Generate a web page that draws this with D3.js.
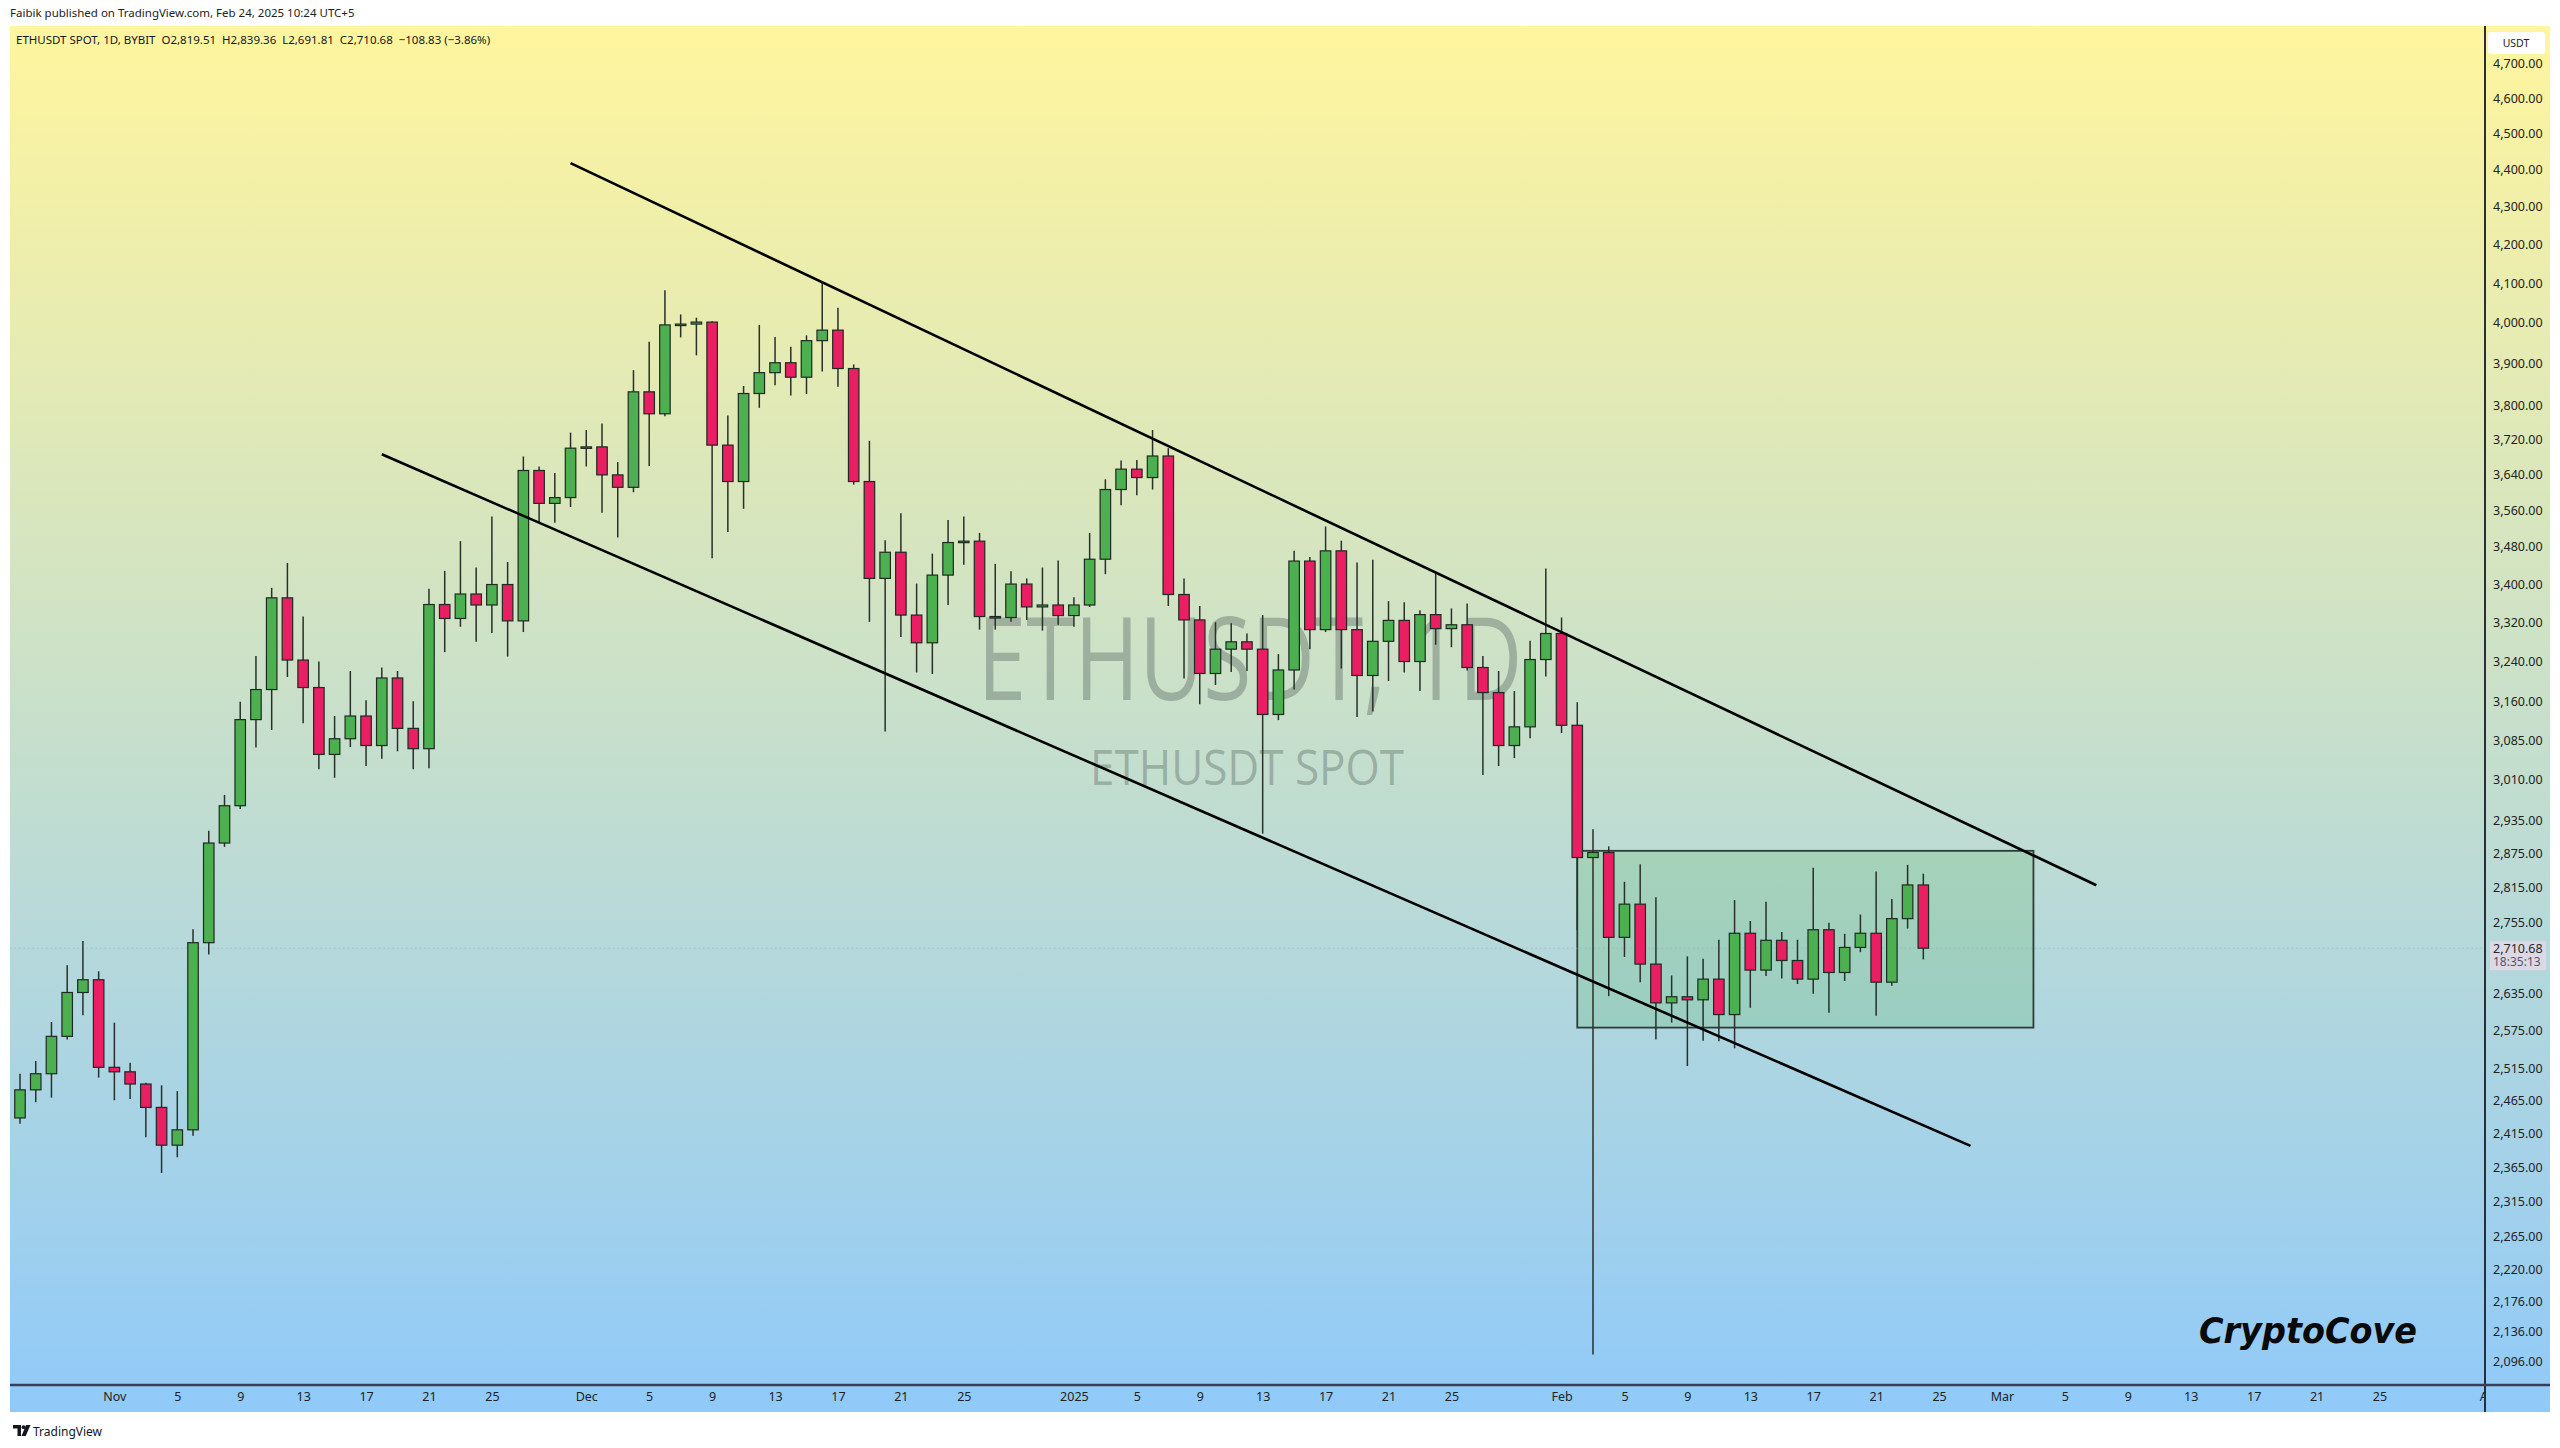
<!DOCTYPE html>
<html>
<head>
<meta charset="utf-8">
<script src="https://cdn.jsdelivr.net/npm/d3@7"></script>
<style>
html,body{margin:0;padding:0;background:#ffffff;}
svg{display:block;}
</style>
</head>
<body>
<div id="chart"></div>
<script>
// ---------------- DATA ----------------
const dates = [
"2024-10-26","2024-10-27","2024-10-28","2024-10-29","2024-10-30","2024-10-31",
"2024-11-01","2024-11-02","2024-11-03","2024-11-04","2024-11-05","2024-11-06","2024-11-07","2024-11-08","2024-11-09","2024-11-10",
"2024-11-11","2024-11-12","2024-11-13","2024-11-14","2024-11-15","2024-11-16","2024-11-17","2024-11-18","2024-11-19","2024-11-20",
"2024-11-21","2024-11-22","2024-11-23","2024-11-24","2024-11-25","2024-11-26","2024-11-27","2024-11-28","2024-11-29","2024-11-30",
"2024-12-01","2024-12-02","2024-12-03","2024-12-04","2024-12-05","2024-12-06","2024-12-07","2024-12-08","2024-12-09","2024-12-10",
"2024-12-11","2024-12-12","2024-12-13","2024-12-14","2024-12-15","2024-12-16","2024-12-17","2024-12-18","2024-12-19","2024-12-20",
"2024-12-21","2024-12-22","2024-12-23","2024-12-24","2024-12-25","2024-12-26","2024-12-27","2024-12-28","2024-12-29","2024-12-30","2024-12-31",
"2025-01-01","2025-01-02","2025-01-03","2025-01-04","2025-01-05","2025-01-06","2025-01-07","2025-01-08","2025-01-09","2025-01-10",
"2025-01-11","2025-01-12","2025-01-13","2025-01-14","2025-01-15","2025-01-16","2025-01-17","2025-01-18","2025-01-19","2025-01-20",
"2025-01-21","2025-01-22","2025-01-23","2025-01-24","2025-01-25","2025-01-26","2025-01-27","2025-01-28","2025-01-29","2025-01-30","2025-01-31",
"2025-02-01","2025-02-02","2025-02-03","2025-02-04","2025-02-05","2025-02-06","2025-02-07","2025-02-08","2025-02-09","2025-02-10",
"2025-02-11","2025-02-12","2025-02-13","2025-02-14","2025-02-15","2025-02-16","2025-02-17","2025-02-18","2025-02-19","2025-02-20",
"2025-02-21","2025-02-22","2025-02-23","2025-02-24"
];
const opens = [
2439,2482,2507,2566,2637,2658,
2517,2510,2491,2455,2398,2421,2720,2894,2962,3125,
3184,3371,3243,3188,3058,3088,3132,3075,3207,3108,
3069,3357,3328,3379,3356,3399,3323,3649,3575,3588,
3700,3703,3639,3611,3832,3780,3995,3997,4002,3707,
3624,3828,3878,3902,3867,3956,3982,3888,3624,3412,
3468,3335,3278,3419,3489,3492,3332,3330,3400,3352,3356,
3334,3356,3453,3606,3652,3633,3682,3378,3325,3216,
3265,3280,3265,3135,3223,3449,3305,3471,3305,3212,
3281,3324,3240,3336,3307,3315,3228,3178,3075,3111,3244,
3297,3114,2868,2877,2729,2786,2684,2620,2630,2625,
2659,2601,2736,2674,2724,2690,2659,2742,2670,2712,
2736,2654,2761,2819.51
];
const highs = [
2507,2527,2589,2682,2723,2672,
2588,2524,2493,2489,2480,2743,2916,2982,3160,3251,
3392,3445,3332,3240,3132,3221,3163,3228,3221,3161,
3390,3428,3492,3435,3546,3447,3681,3658,3643,3736,
3742,3757,3668,3884,3953,4082,4021,4013,4004,3776,
3846,3995,3965,3941,3969,4104,4038,3898,3717,3494,
3553,3401,3465,3538,3546,3510,3443,3427,3412,3435,3450,
3372,3510,3629,3672,3673,3742,3700,3412,3354,3320,
3318,3297,3335,3255,3471,3458,3524,3493,3446,3452,
3364,3362,3345,3423,3349,3359,3251,3221,3181,3282,3433,
3330,3159,2919,2888,2825,2856,2798,2665,2697,2693,
2725,2793,2757,2790,2738,2725,2850,2754,2735,2768,
2843,2795,2855,2839.36
];
const lows = [
2430,2463,2470,2561,2600,2501,
2466,2468,2410,2357,2380,2412,2700,2887,2956,3071,
3105,3209,3118,3030,3014,3072,3036,3050,3064,3030,
3032,3259,3311,3280,3298,3250,3300,3534,3532,3567,
3658,3554,3500,3600,3659,3774,3964,3920,3455,3512,
3563,3794,3848,3823,3827,3881,3844,3617,3321,3102,
3290,3218,3215,3356,3441,3305,3305,3321,3325,3303,3315,
3311,3352,3421,3571,3593,3606,3354,3206,3155,3193,
3219,3221,2911,3124,3184,3265,3300,3226,3130,3141,
3201,3218,3181,3274,3269,3222,3019,3036,3051,3089,3210,
3099,2741,2105,2631,2696,2654,2561,2588,2519,2559,
2558,2547,2612,2664,2660,2651,2635,2604,2656,2704,
2599,2648,2744,2691.81
];
const closes = [
2482,2507,2566,2637,2658,2517,
2510,2491,2455,2398,2421,2720,2894,2962,3125,3184,
3371,3243,3188,3058,3088,3132,3075,3207,3108,3069,
3357,3328,3379,3356,3399,3323,3649,3575,3588,3700,
3703,3639,3611,3832,3780,3995,3997,4002,3707,3624,
3828,3878,3902,3867,3956,3982,3888,3624,3412,3468,
3335,3278,3419,3489,3492,3332,3330,3400,3352,3356,3334,
3356,3453,3606,3652,3633,3682,3378,3325,3216,3265,
3280,3265,3135,3223,3449,3305,3471,3305,3212,3281,
3324,3240,3336,3307,3315,3228,3178,3075,3111,3244,3297,
3114,2868,2877,2729,2786,2684,2620,2630,2625,2659,
2601,2736,2674,2724,2690,2659,2742,2670,2712,2736,
2654,2761,2819.51,2710.68
];

// price-axis tick labels (log scale, as printed on the chart)
const priceTicks = [4700,4600,4500,4400,4300,4200,4100,4000,3900,3800,3720,3640,3560,3480,3400,3320,
  3240,3160,3085,3010,2935,2875,2815,2755,2635,2575,2515,2465,2415,2365,2315,2265,2220,2176,2136,2096];

// time-axis tick labels
const timeTickDates = ["2024-11-01","2024-11-05","2024-11-09","2024-11-13","2024-11-17","2024-11-21","2024-11-25",
  "2024-12-01","2024-12-05","2024-12-09","2024-12-13","2024-12-17","2024-12-21","2024-12-25",
  "2025-01-01","2025-01-05","2025-01-09","2025-01-13","2025-01-17","2025-01-21","2025-01-25",
  "2025-02-01","2025-02-05","2025-02-09","2025-02-13","2025-02-17","2025-02-21","2025-02-25",
  "2025-03-01","2025-03-05","2025-03-09","2025-03-13","2025-03-17","2025-03-21","2025-03-25","2025-04-01"];
const timeTickLabels = ["Nov","5","9","13","17","21","25","Dec","5","9","13","17","21","25",
  "2025","5","9","13","17","21","25","Feb","5","9","13","17","21","25","Mar","5","9","13","17","21","25","Apr"];

// drawings: descending channel lines and consolidation box
const upperLineDates = ["2024-11-30","2025-03-07"];
const upperLinePrices = [4418, 2819];
const lowerLineDates = ["2024-11-18","2025-02-27"];
const lowerLinePrices = [3686, 2397];
const boxDates = ["2025-02-02","2025-03-03"];
const boxPrices = [2880, 2580];

const symbolName = "ETHUSDT SPOT, 1D, BYBIT";
const publishedText = "Faibik published on TradingView.com, Feb 24, 2025 10:24 UTC+5";
const countdownText = "18:35:13";

// ---------------- LAYOUT ----------------
const W = 2560, H = 1448;
const panel = {x0: 10, y0: 26, x1: 2550, y1: 1412};
const plot = {x0: 10, y0: 26, x1: 2485, y1: 1385};

const parse = d3.utcParse("%Y-%m-%d");
const candles = dates.map((d, i) => ({date: parse(d), o: opens[i], h: highs[i], l: lows[i], c: closes[i]}));

const x = d3.scaleUtc()
  .domain([parse("2024-10-26"), parse("2025-03-01")])
  .range([20, 20 + 126 * 15.73]);
const y = d3.scaleLog().domain([2096, 4700]).range([1361.5, 63.7]);

const svg = d3.select("#chart").append("svg")
  .attr("width", W).attr("height", H).attr("viewBox", `0 0 ${W} ${H}`);

const defs = svg.append("defs");
const grad = defs.append("linearGradient").attr("id", "bg").attr("x1", 0).attr("y1", 0).attr("x2", 0).attr("y2", 1);
grad.append("stop").attr("offset", "0%").attr("stop-color", "#fff59d");
grad.append("stop").attr("offset", "100%").attr("stop-color", "#90caf9");
defs.append("clipPath").attr("id", "plotClip").append("rect")
  .attr("x", plot.x0).attr("y", plot.y0).attr("width", plot.x1 - plot.x0).attr("height", plot.y1 - plot.y0);
defs.append("clipPath").attr("id", "timeClip").append("rect")
  .attr("x", plot.x0).attr("y", plot.y1).attr("width", plot.x1 - plot.x0).attr("height", panel.y1 - plot.y1);

// background
svg.append("rect").attr("x", 0).attr("y", 0).attr("width", W).attr("height", H).attr("fill", "#ffffff");
svg.append("rect").attr("x", panel.x0).attr("y", panel.y0)
  .attr("width", panel.x1 - panel.x0).attr("height", panel.y1 - panel.y0).attr("fill", "url(#bg)");

const uiFont = "'Noto Sans', 'Open Sans', Lato, sans-serif";

// header texts
svg.append("text").attr("x", 10).attr("y", 17).attr("font-family", uiFont).attr("font-size", 11.5)
  .attr("fill", "#222").text(publishedText);

const last = candles[candles.length - 1], prev = candles[candles.length - 2];
const chg = last.c - prev.c, pct = chg / prev.c * 100;
const f2 = d3.format(",.2f");
const minus = v => (v < 0 ? "\u2212" : "+") + d3.format(".2f")(Math.abs(v));
const legend = svg.append("text").attr("x", 16).attr("y", 44).attr("font-family", uiFont)
  .attr("font-size", 11.5).attr("fill", "#131722").attr("xml:space", "preserve");
legend.text(`${symbolName}  O${f2(last.o)}  H${f2(last.h)}  L${f2(last.l)}  C${f2(last.c)}  ${minus(chg)} (${minus(pct)}%)`);

const plotG = svg.append("g").attr("clip-path", "url(#plotClip)");

// watermark
const wmColor = "rgba(100,116,108,0.45)";
plotG.append("text").attr("x", 1250).attr("y", 700).attr("text-anchor", "middle")
  .attr("font-family", "'Open Sans', 'Noto Sans', sans-serif").attr("font-size", 116)
  .attr("textLength", 545).attr("lengthAdjust", "spacingAndGlyphs")
  .attr("fill", wmColor).text("ETHUSDT, 1D");
plotG.append("text").attr("x", 1247).attr("y", 785).attr("text-anchor", "middle")
  .attr("font-family", "'Open Sans', 'Noto Sans', sans-serif").attr("font-size", 50)
  .attr("textLength", 314).attr("lengthAdjust", "spacingAndGlyphs")
  .attr("fill", wmColor).text("ETHUSDT SPOT");

// consolidation box
const bx0 = x(parse(boxDates[0])), bx1 = x(parse(boxDates[1]));
const by0 = y(boxPrices[0]), by1 = y(boxPrices[1]);
plotG.append("rect").attr("x", bx0).attr("y", by0).attr("width", bx1 - bx0).attr("height", by1 - by0)
  .attr("fill", "rgba(76,175,80,0.2)").attr("stroke", "#2c3d35").attr("stroke-width", 1.8);

// current price line
plotG.append("line").attr("x1", plot.x0).attr("x2", plot.x1)
  .attr("y1", y(last.c)).attr("y2", y(last.c))
  .attr("stroke", "#b0a0c0").attr("stroke-width", 1).attr("stroke-dasharray", "1.5,3").attr("opacity", 0.6);

// candles
const bodyW = 10.5;
const cg = plotG.append("g");
cg.selectAll("line.wick").data(candles).join("line").attr("class", "wick")
  .attr("x1", d => x(d.date)).attr("x2", d => x(d.date))
  .attr("y1", d => y(d.h)).attr("y2", d => y(d.l))
  .attr("stroke", "#283029").attr("stroke-width", 1.5);
cg.selectAll("rect.body").data(candles).join("rect").attr("class", "body")
  .attr("x", d => x(d.date) - bodyW / 2).attr("width", bodyW)
  .attr("y", d => y(Math.max(d.o, d.c)))
  .attr("height", d => Math.max(1.5, y(Math.min(d.o, d.c)) - y(Math.max(d.o, d.c))))
  .attr("fill", d => d.c >= d.o ? "#4caf50" : "#e91e63")
  .attr("stroke", "#1e2a22").attr("stroke-width", 1.2);

// channel lines
const lineGen = d3.line().x(d => x(d[0])).y(d => y(d[1]));
plotG.append("path").datum(upperLineDates.map((d, i) => [parse(d), upperLinePrices[i]]))
  .attr("d", lineGen).attr("stroke", "#000").attr("stroke-width", 2.6).attr("fill", "none");
plotG.append("path").datum(lowerLineDates.map((d, i) => [parse(d), lowerLinePrices[i]]))
  .attr("d", lineGen).attr("stroke", "#000").attr("stroke-width", 2.6).attr("fill", "none");

// CryptoCove signature
svg.append("text").attr("x", 2199).attr("y", 1343)
  .attr("font-family", "'DejaVu Sans', Verdana, sans-serif").attr("font-weight", "bold").attr("font-style", "italic")
  .attr("font-size", 36).attr("textLength", 218).attr("lengthAdjust", "spacingAndGlyphs")
  .attr("fill", "#0a0a0a").text("CryptoCove");

// price axis
const yAxis = d3.axisRight(y).tickValues(priceTicks).tickFormat(f2).tickSize(0).tickPadding(0);
const yAx = svg.append("g").attr("transform", `translate(2493,0)`).call(yAxis);
yAx.select(".domain").remove();
yAx.selectAll("text").attr("font-family", uiFont).attr("font-size", 12.5).attr("fill", "#222").attr("x", 0);

// time axis
const xAxis = d3.axisBottom(x).tickValues(timeTickDates.map(parse))
  .tickFormat((d, i) => timeTickLabels[i]).tickSize(0).tickPadding(0);
const xAx = svg.append("g").attr("clip-path", "url(#timeClip)")
  .append("g").attr("transform", `translate(0,1392)`).call(xAxis);
xAx.select(".domain").remove();
xAx.selectAll("text").attr("font-family", uiFont).attr("font-size", 12.5).attr("fill", "#222");

// axis lines
svg.append("line").attr("x1", plot.x1).attr("x2", plot.x1).attr("y1", panel.y0).attr("y2", panel.y1)
  .attr("stroke", "#2a2e39").attr("stroke-width", 2);
svg.append("line").attr("x1", panel.x0).attr("x2", panel.x1).attr("y1", plot.y1).attr("y2", plot.y1)
  .attr("stroke", "#34405a").attr("stroke-width", 2.5);

// USDT label box
svg.append("rect").attr("x", 2488).attr("y", 32).attr("width", 57).attr("height", 22).attr("rx", 3).attr("fill", "#ffffff");
svg.append("text").attr("x", 2516).attr("y", 47).attr("text-anchor", "middle").attr("font-family", uiFont)
  .attr("font-size", 10.5).attr("fill", "#222").text("USDT");

// current price label
const cy = y(last.c);
svg.append("rect").attr("x", 2490).attr("y", cy - 7).attr("width", 56).attr("height", 29).attr("fill", "#dcd8e6");
svg.append("text").attr("x", 2493).attr("y", cy + 4.5).attr("font-family", uiFont).attr("font-size", 12.5)
  .attr("fill", "#2a2a2a").text(f2(last.c));
svg.append("text").attr("x", 2493).attr("y", cy + 18).attr("font-family", uiFont).attr("font-size", 12)
  .attr("fill", "#5a5566").text(countdownText);

// TradingView logo
const logo = svg.append("g").attr("fill", "#131722");
logo.append("path").attr("d", "M13 1425 h8 v11 h-3.5 v-7.5 h-4.5 z");
logo.append("circle").attr("cx", 23.5).attr("cy", 1427.2).attr("r", 1.9);
logo.append("path").attr("d", "M26 1425 h4.5 l-4.8 11 h-4.2 z");
svg.append("text").attr("x", 33).attr("y", 1436).attr("font-family", uiFont).attr("font-size", 12)
  .attr("fill", "#131722").text("TradingView");
</script>
</body>
</html>
